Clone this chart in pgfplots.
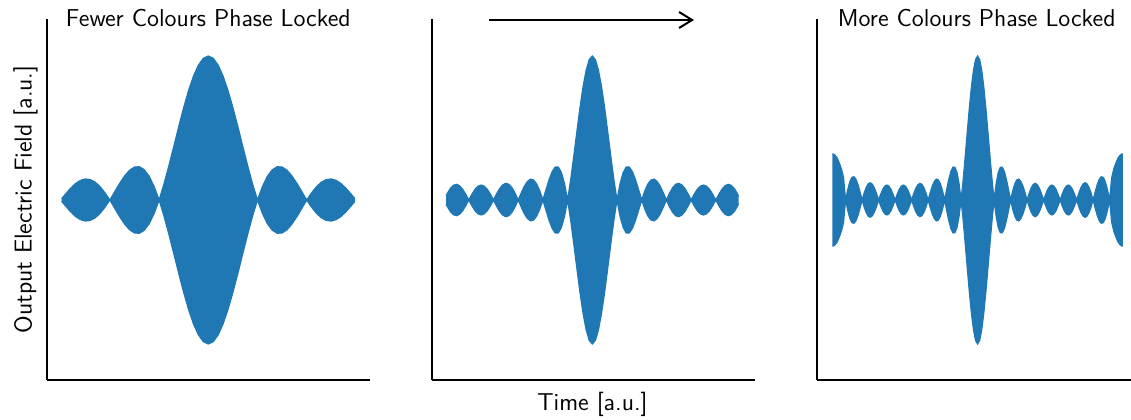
\documentclass[border=0pt]{standalone}
\usepackage{pgfplots}
\pgfplotsset{compat=1.18}
\usepackage{pgfplotstable}
\usepgfplotslibrary{fillbetween}
\usetikzlibrary{arrows.meta}

\definecolor{tabblue}{RGB}{31,119,180}

% Field envelopes |E(s)|, s = time in units of the envelope zero spacing
\pgfplotstableread{
s e
-2.98 0.009
-2.9 0.042
-2.8 0.081
-2.7 0.114
-2.6 0.136
-2.5 0.146
-2.4 0.142
-2.3 0.124
-2.2 0.093
-2.1 0.050
-2.0 0
-1.9 0.059
-1.8 0.116
-1.7 0.167
-1.6 0.207
-1.5 0.229
-1.4 0.231
-1.3 0.210
-1.2 0.164
-1.1 0.093
-1.0 0
-0.9 0.112
-0.8 0.239
-0.7 0.374
-0.6 0.511
-0.5 0.642
-0.4 0.761
-0.3 0.861
-0.2 0.937
-0.1 0.984
0 1
0.1 0.984
0.2 0.937
0.3 0.861
0.4 0.761
0.5 0.642
0.6 0.511
0.7 0.374
0.8 0.239
0.9 0.112
1.0 0
1.1 0.093
1.2 0.164
1.3 0.210
1.4 0.231
1.5 0.229
1.6 0.207
1.7 0.167
1.8 0.116
1.9 0.059
2.0 0
2.1 0.050
2.2 0.093
2.3 0.124
2.4 0.142
2.5 0.146
2.6 0.136
2.7 0.114
2.8 0.081
2.9 0.042
2.98 0.009
}\fewer

\pgfplotstableread{
s e
-5.92 0.028
-5.875 0.044
-5.75 0.080
-5.625 0.102
-5.5 0.109
-5.375 0.099
-5.25 0.075
-5.125 0.040
-5 0
-4.875 0.040
-4.75 0.074
-4.625 0.096
-4.5 0.104
-4.375 0.096
-4.25 0.074
-4.125 0.040
-4 0
-3.875 0.043
-3.75 0.080
-3.625 0.105
-3.5 0.116
-3.375 0.109
-3.25 0.085
-3.125 0.047
-3 0
-2.875 0.050
-2.75 0.096
-2.625 0.129
-2.5 0.145
-2.375 0.139
-2.25 0.111
-2.125 0.063
-2 0
-1.875 0.072
-1.75 0.141
-1.625 0.197
-1.5 0.229
-1.375 0.229
-1.25 0.191
-1.125 0.114
-1 0
-0.875 0.141
-0.75 0.304
-0.625 0.474
-0.5 0.640
-0.375 0.786
-0.25 0.901
-0.125 0.975
0 1
0.125 0.975
0.25 0.901
0.375 0.786
0.5 0.640
0.625 0.474
0.75 0.304
0.875 0.141
1 0
1.125 0.114
1.25 0.191
1.375 0.229
1.5 0.229
1.625 0.197
1.75 0.141
1.875 0.072
2 0
2.125 0.063
2.25 0.111
2.375 0.139
2.5 0.145
2.625 0.129
2.75 0.096
2.875 0.050
3 0
3.125 0.047
3.25 0.085
3.375 0.109
3.5 0.116
3.625 0.105
3.75 0.080
3.875 0.043
4 0
4.125 0.040
4.25 0.074
4.375 0.096
4.5 0.104
4.625 0.096
4.75 0.074
4.875 0.040
5 0
5.125 0.040
5.25 0.075
5.375 0.099
5.5 0.109
5.625 0.102
5.75 0.080
5.875 0.044
5.92 0.028
}\middle

\pgfplotstableread{
s e
-8.8 0.320
-8.75 0.320
-8.625 0.310
-8.5 0.290
-8.375 0.255
-8.25 0.215
-8.125 0.155
-8 0
-7.875 0.070
-7.75 0.124
-7.625 0.156
-7.5 0.162
-7.375 0.145
-7.25 0.107
-7.125 0.056
-7 0
-6.875 0.049
-6.75 0.088
-6.625 0.113
-6.5 0.120
-6.375 0.109
-6.25 0.083
-6.125 0.044
-6 0
-5.875 0.040
-5.75 0.074
-5.625 0.096
-5.5 0.104
-5.375 0.096
-5.25 0.074
-5.125 0.040
-5 0
-4.875 0.040
-4.75 0.074
-4.625 0.096
-4.5 0.104
-4.375 0.096
-4.25 0.074
-4.125 0.040
-4 0
-3.875 0.043
-3.75 0.080
-3.625 0.105
-3.5 0.116
-3.375 0.109
-3.25 0.085
-3.125 0.047
-3 0
-2.875 0.050
-2.75 0.096
-2.625 0.129
-2.5 0.145
-2.375 0.139
-2.25 0.111
-2.125 0.063
-2 0
-1.875 0.072
-1.75 0.141
-1.625 0.197
-1.5 0.227
-1.375 0.227
-1.25 0.191
-1.125 0.114
-1 0
-0.875 0.141
-0.75 0.304
-0.625 0.474
-0.5 0.640
-0.375 0.786
-0.25 0.901
-0.125 0.975
0 1
0.125 0.975
0.25 0.901
0.375 0.786
0.5 0.640
0.625 0.474
0.75 0.304
0.875 0.141
1 0
1.125 0.114
1.25 0.191
1.375 0.227
1.5 0.227
1.625 0.197
1.75 0.141
1.875 0.072
2 0
2.125 0.063
2.25 0.111
2.375 0.139
2.5 0.145
2.625 0.129
2.75 0.096
2.875 0.050
3 0
3.125 0.047
3.25 0.085
3.375 0.109
3.5 0.116
3.625 0.105
3.75 0.080
3.875 0.043
4 0
4.125 0.040
4.25 0.074
4.375 0.096
4.5 0.104
4.625 0.096
4.75 0.074
4.875 0.040
5 0
5.125 0.040
5.25 0.074
5.375 0.096
5.5 0.104
5.625 0.096
5.75 0.074
5.875 0.040
6 0
6.125 0.044
6.25 0.083
6.375 0.109
6.5 0.120
6.625 0.113
6.75 0.088
6.875 0.049
7 0
7.125 0.056
7.25 0.107
7.375 0.145
7.5 0.162
7.625 0.156
7.75 0.124
7.875 0.070
8 0
8.125 0.155
8.25 0.215
8.375 0.255
8.5 0.290
8.625 0.310
8.75 0.320
8.8 0.320
}\more

\pgfplotsset{
  pulse/.style={
    scale only axis,
    width=161.35pt, height=180.5pt,
    ymin=-1.25, ymax=1.257,
    axis x line=bottom, axis y line=left,
    axis line style={-, line width=1pt, black},
    xtick=\empty, ytick=\empty,
  },
}

\newcommand{\envelope}[1]{%
  \addplot[draw=tabblue, line width=0.6pt, name path=up] table[x=s, y=e] {#1};
  \addplot[draw=tabblue, line width=0.6pt, name path=dn] table[x=s, y expr=-\thisrow{e}] {#1};
  \addplot[fill=tabblue, draw=none] fill between[of=up and dn];
}

\begin{document}
\begin{tikzpicture}[font=\sffamily\fontsize{12.2pt}{14pt}\selectfont]

\begin{axis}[pulse, at={(23.65pt,19.5pt)}, anchor=south west,
  xmin=-3.272, xmax=3.287]
  \envelope{\fewer}
\end{axis}

\begin{axis}[pulse, at={(216.15pt,19.5pt)}, anchor=south west,
  xmin=-6.478, xmax=6.587]
  \envelope{\middle}
\end{axis}

\begin{axis}[pulse, at={(408.5pt,19.5pt)}, anchor=south west,
  xmin=-9.733, xmax=9.824]
  \envelope{\more}
\end{axis}

\node[anchor=base] at (104.15pt,196.5pt) {Fewer Colours Phase Locked};
\node[anchor=base] at (488.35pt,196.5pt) {More Colours Phase Locked};
\draw[line width=1pt, -{Straight Barb[length=6.5pt, width=8pt]}]
  (244.5pt,199.5pt) -- (347pt,199.5pt);
\node[anchor=base] at (296.25pt,4.5pt) {Time [a.u.]};
\node[anchor=base, rotate=90] at (15.85pt,109.75pt) {Output Electric Field [a.u.]};

\pgfresetboundingbox
\path (0pt,0pt) rectangle (565.5pt,209.5pt);
\end{tikzpicture}
\end{document}
